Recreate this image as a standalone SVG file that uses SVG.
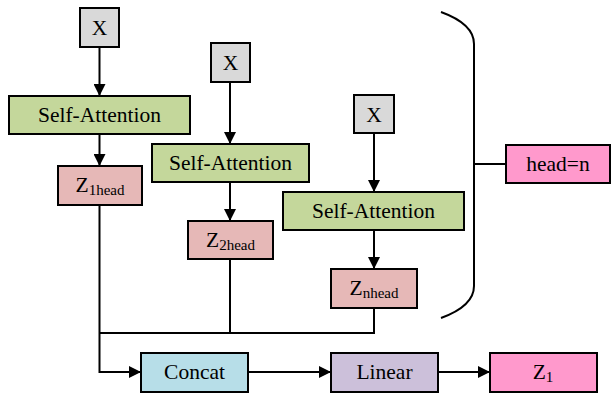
<svg xmlns="http://www.w3.org/2000/svg" width="611" height="396" viewBox="0 0 611 396">
  <defs>
    <marker id="arrow" markerWidth="12" markerHeight="12" refX="12" refY="6" orient="auto" markerUnits="userSpaceOnUse">
      <path d="M0,0 L12,6 L0,12 Z" fill="#000"/>
    </marker>
    <style>
      .box { stroke: #000; stroke-width: 2; }
      .x { fill: #d9d9d9; }
      .sa { fill: #c4d79b; }
      .z { fill: #e6b8b7; }
      .cat { fill: #b7dee8; }
      .lin { fill: #ccc0da; }
      .pk { fill: #ff99cc; }
      text { font-family: "Liberation Serif", "Times New Roman", Times, "Nimbus Roman", "Noto Serif", "DejaVu Serif", FreeSerif, Tinos, serif; font-size: 21.5px; fill: #000; text-anchor: middle; }
      .sub { font-size: 15px; }
      .ln { fill: none; stroke: #000; stroke-width: 2; }
    </style>
  </defs>

  <rect width="611" height="396" fill="#fff"/>

  <g id="connectors">
    <line class="ln" x1="99.5" y1="47" x2="99.5" y2="96" marker-end="url(#arrow)"/>
    <line class="ln" x1="99.5" y1="134" x2="99.5" y2="166" marker-end="url(#arrow)"/>
    <line class="ln" x1="230" y1="82" x2="230" y2="144" marker-end="url(#arrow)"/>
    <line class="ln" x1="230" y1="182" x2="230" y2="221" marker-end="url(#arrow)"/>
    <line class="ln" x1="374" y1="133" x2="374" y2="192" marker-end="url(#arrow)"/>
    <line class="ln" x1="374" y1="230" x2="374" y2="269" marker-end="url(#arrow)"/>
    <polyline class="ln" points="99.5,205 99.5,372 141,372" marker-end="url(#arrow)"/>
    <line class="ln" x1="230" y1="259" x2="230" y2="333"/>
    <polyline class="ln" points="374,308 374,333 99.5,333"/>
    <line class="ln" x1="248" y1="372" x2="331" y2="372" marker-end="url(#arrow)"/>
    <line class="ln" x1="438" y1="372" x2="490" y2="372" marker-end="url(#arrow)"/>
    <path class="ln" d="M441,12 Q474,24 474,44 L474,286 Q474,306 441,318"/>
    <line class="ln" x1="474" y1="164" x2="506" y2="164"/>
  </g>

  <g id="x1"><rect class="box x" x="80" y="8" width="39" height="39"/><text x="99.5" y="35">X</text></g>
  <g id="x2"><rect class="box x" x="211" y="43" width="39" height="39"/><text x="230.5" y="70">X</text></g>
  <g id="x3"><rect class="box x" x="354" y="95" width="40" height="38"/><text x="374" y="122">X</text></g>

  <g id="sa1"><rect class="box sa" x="9" y="96" width="181" height="38"/><text x="99.5" y="122">Self-Attention</text></g>
  <g id="sa2"><rect class="box sa" x="152" y="144" width="157" height="38"/><text x="230.5" y="170">Self-Attention</text></g>
  <g id="sa3"><rect class="box sa" x="283" y="192" width="181" height="38"/><text x="373.5" y="218">Self-Attention</text></g>

  <g id="z1head"><rect class="box z" x="58" y="166" width="84" height="39"/><text x="100" y="192">Z<tspan class="sub" dy="3">1head</tspan></text></g>
  <g id="z2head"><rect class="box z" x="188" y="221" width="85" height="38"/><text x="230.5" y="247">Z<tspan class="sub" dy="3">2head</tspan></text></g>
  <g id="znhead"><rect class="box z" x="331" y="269" width="86" height="39"/><text x="374" y="295">Z<tspan class="sub" dy="3">nhead</tspan></text></g>

  <g id="headn"><rect class="box pk" x="506" y="145" width="104" height="38"/><text x="558" y="171">head=n</text></g>

  <g id="concat"><rect class="box cat" x="141" y="353" width="107" height="39"/><text x="194.5" y="379">Concat</text></g>
  <g id="linear"><rect class="box lin" x="331" y="353" width="107" height="39"/><text x="384.5" y="379">Linear</text></g>
  <g id="z1"><rect class="box pk" x="490" y="353" width="107" height="39"/><text x="543" y="379">Z<tspan class="sub" dy="3">1</tspan></text></g>
</svg>
